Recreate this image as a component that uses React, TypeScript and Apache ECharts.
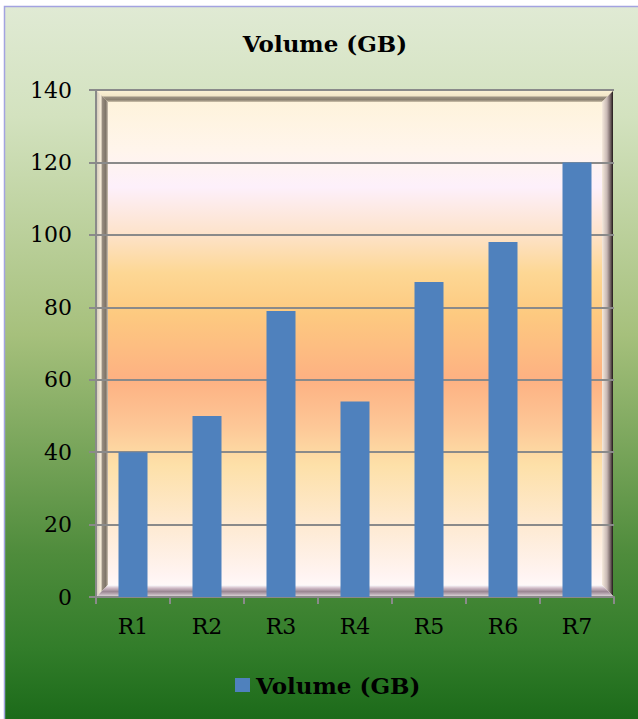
import React, { useEffect, useRef } from "react";
import * as echarts from "echarts";

const categories = ["R1", "R2", "R3", "R4", "R5", "R6", "R7"];
const volumeGB = [40, 50, 79, 54, 87, 98, 120];
const seriesName = "Volume (GB)";
const chartTitle = "Volume (GB)";

const W = 638;
const H = 719;
const GRID = { left: 96, right: 24, top: 90, bottom: 122 };

const SERIF = "'DejaVu Serif', 'Liberation Serif', serif";
const BAR = "#4f81bd";
const AXIS_GRAY = "#8a8a8a";

export default function App() {
  const ref = useRef<HTMLDivElement>(null);

  useEffect(() => {
    if (!ref.current) return;
    const chart = echarts.init(ref.current, undefined, { renderer: "svg" });

    // plot rectangle in pixels
    const px0 = GRID.left + 1;
    const py0 = GRID.top + 1;
    const px1 = W - GRID.right - 1;
    const py1 = H - GRID.bottom - 1;
    const b = 11; // bevel depth
    const lin = (x2: number, y2: number, stops: [number, string][]) =>
      new echarts.graphic.LinearGradient(
        0, 0, x2, y2,
        stops.map(([offset, color]) => ({ offset, color }))
      );

    chart.setOption({
      animation: false,
      graphic: [
        // outer chart backdrop
        {
          type: "rect",
          z: -20,
          silent: true,
          shape: { x: 4.5, y: 6.5, width: W + 10, height: H + 10 },
          style: {
            fill: lin(0, 1, [
              [0, "#e0ead4"],
              [0.15, "#d3e2bf"],
              [0.45, "#a6c07c"],
              [0.75, "#4f8c3c"],
              [0.88, "#327d2a"],
              [1, "#176616"],
            ]),
            stroke: "#a3a3e0",
            lineWidth: 1.5,
          },
        },
        // plot area fill
        {
          type: "rect",
          z: -15,
          silent: true,
          shape: { x: px0, y: py0, width: px1 - px0, height: py1 - py0 },
          style: {
            fill: lin(0, 1, [
              [0, "#fef3d8"],
              [0.12, "#fff5ec"],
              [0.19, "#fdf0fb"],
              [0.28, "#fde3cc"],
              [0.36, "#fdd794"],
              [0.44, "#fdca80"],
              [0.57, "#fdb182"],
              [0.66, "#fdc696"],
              [0.74, "#fde0a8"],
              [0.86, "#feead2"],
              [0.96, "#fff4f2"],
              [1, "#ffffff"],
            ]),
          },
        },
        // bevel: top
        {
          type: "polygon",
          z: -10,
          silent: true,
          shape: { points: [[px0, py0], [px1, py0], [px1 - b, py0 + b], [px0 + b, py0 + b]] },
          style: {
            fill: lin(0, 1, [
              [0, "#faf0d4"],
              [0.45, "#f2e6c8"],
              [0.55, "#9c9282"],
              [0.8, "#8a8070"],
              [1, "#cfc3ac"],
            ]),
          },
        },
        // bevel: left
        {
          type: "polygon",
          z: -10,
          silent: true,
          shape: { points: [[px0, py0], [px0 + b, py0 + b], [px0 + b, py1 - b], [px0, py1]] },
          style: {
            fill: lin(1, 0, [
              [0, "#d6cdbd"],
              [0.35, "#f6ecd8"],
              [0.5, "#968b7e"],
              [0.8, "#7e7468"],
              [1, "#cfc4b4"],
            ]),
          },
        },
        // bevel: right
        {
          type: "polygon",
          z: -10,
          silent: true,
          shape: { points: [[px1, py0], [px1, py1], [px1 - b, py1 - b], [px1 - b, py0 + b]] },
          style: {
            fill: lin(1, 0, [
              [0, "#f6eadc"],
              [0.45, "#c8b8b4"],
              [0.75, "#7a6a6a"],
              [1, "#201818"],
            ]),
          },
        },
        // bevel: bottom
        {
          type: "polygon",
          z: -10,
          silent: true,
          shape: { points: [[px0, py1], [px1, py1], [px1 - b, py1 - b], [px0 + b, py1 - b]] },
          style: {
            fill: lin(0, 1, [
              [0, "#ffffff"],
              [0.3, "#cdb8c4"],
              [0.6, "#9a8692"],
              [0.8, "#b8a8b2"],
              [1, "#d8d0d4"],
            ]),
          },
        },
        // chart title
        {
          type: "text",
          z: 10,
          x: 325,
          y: 43,
          style: {
            text: chartTitle,
            fontFamily: SERIF,
            fontSize: 23,
            fontWeight: "bold",
            fill: "#000000",
            align: "center",
            verticalAlign: "middle",
          },
        },
      ],
      legend: {
        data: [seriesName],
        left: 235,
        top: 672,
        padding: 0,
        icon: "rect",
        itemWidth: 15,
        itemHeight: 14,
        textStyle: {
          fontFamily: SERIF,
          fontSize: 23,
          fontWeight: "bold",
          color: "#000000",
          lineHeight: 26,
          padding: [0, 0, 0, 1],
        },
      },
      grid: {
        left: GRID.left,
        right: GRID.right,
        top: GRID.top,
        bottom: GRID.bottom,
        containLabel: false,
      },
      xAxis: {
        type: "category",
        data: categories,
        axisLine: { show: true, lineStyle: { color: AXIS_GRAY, width: 2 } },
        axisTick: {
          show: true,
          length: 7,
          alignWithLabel: false,
          lineStyle: { color: AXIS_GRAY, width: 2 },
        },
        axisLabel: {
          margin: 18,
          fontFamily: SERIF,
          fontSize: 22,
          color: "#000000",
        },
      },
      yAxis: {
        type: "value",
        min: 0,
        max: 140,
        interval: 20,
        axisLine: { show: true, lineStyle: { color: AXIS_GRAY, width: 2 } },
        axisTick: { show: true, length: 7, lineStyle: { color: AXIS_GRAY, width: 2 } },
        splitLine: { show: true, lineStyle: { color: AXIS_GRAY, width: 2 } },
        axisLabel: {
          margin: 24,
          fontFamily: SERIF,
          fontSize: 22,
          color: "#000000",
        },
      },
      series: [
        {
          name: seriesName,
          type: "bar",
          data: volumeGB,
          barWidth: 29,
          itemStyle: { color: BAR },
        },
      ],
    });

    return () => chart.dispose();
  }, []);

  return (
    <div
      ref={ref}
      style={{ position: "absolute", left: 0, top: 0, width: W, height: H }}
    />
  );
}
